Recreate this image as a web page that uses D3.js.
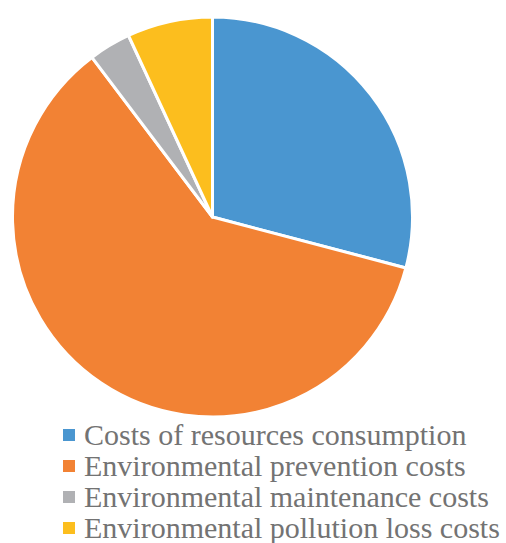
<!DOCTYPE html>
<html><head><meta charset="utf-8">
<script src="https://cdn.jsdelivr.net/npm/d3@7"></script>
<style>body{margin:0;background:#fff}</style>
</head><body>
<svg id="c" width="506" height="543"></svg>
<script>
const categories = ["Costs of resources consumption","Environmental prevention costs","Environmental maintenance costs","Environmental pollution loss costs"];
const values = [29.1, 60.6, 3.4, 6.9];
const colors = ["#4a96d0","#f28234","#b0b1b4","#fcbe1e"];

const svg = d3.select("#c");
const cx = 212.5, cy = 217, r = 200;
const pie = d3.pie().sort(null).value(d => d.v);
const arcs = pie(categories.map((c,i)=>({c, v: values[i], col: colors[i]})));
const arc = d3.arc().innerRadius(0).outerRadius(r);
svg.append("g").attr("transform",`translate(${cx},${cy})`)
  .selectAll("path").data(arcs).join("path")
  .attr("d", arc).attr("fill", d=>d.data.col)
  .attr("stroke","#fff").attr("stroke-width",3).attr("stroke-linejoin","round");

const lg = svg.append("g");
const items = lg.selectAll("g").data(categories).join("g")
  .attr("transform",(d,i)=>`translate(63,${445 + i*31})`);
items.append("rect").attr("x",0).attr("y",-16).attr("width",12).attr("height",12).attr("fill",(d,i)=>colors[i]);
items.append("text").attr("x",21).attr("y",0).text(d=>d)
  .attr("font-family","Liberation Serif")
  .attr("font-size",30).attr("fill","#737373");
</script>
</body></html>
